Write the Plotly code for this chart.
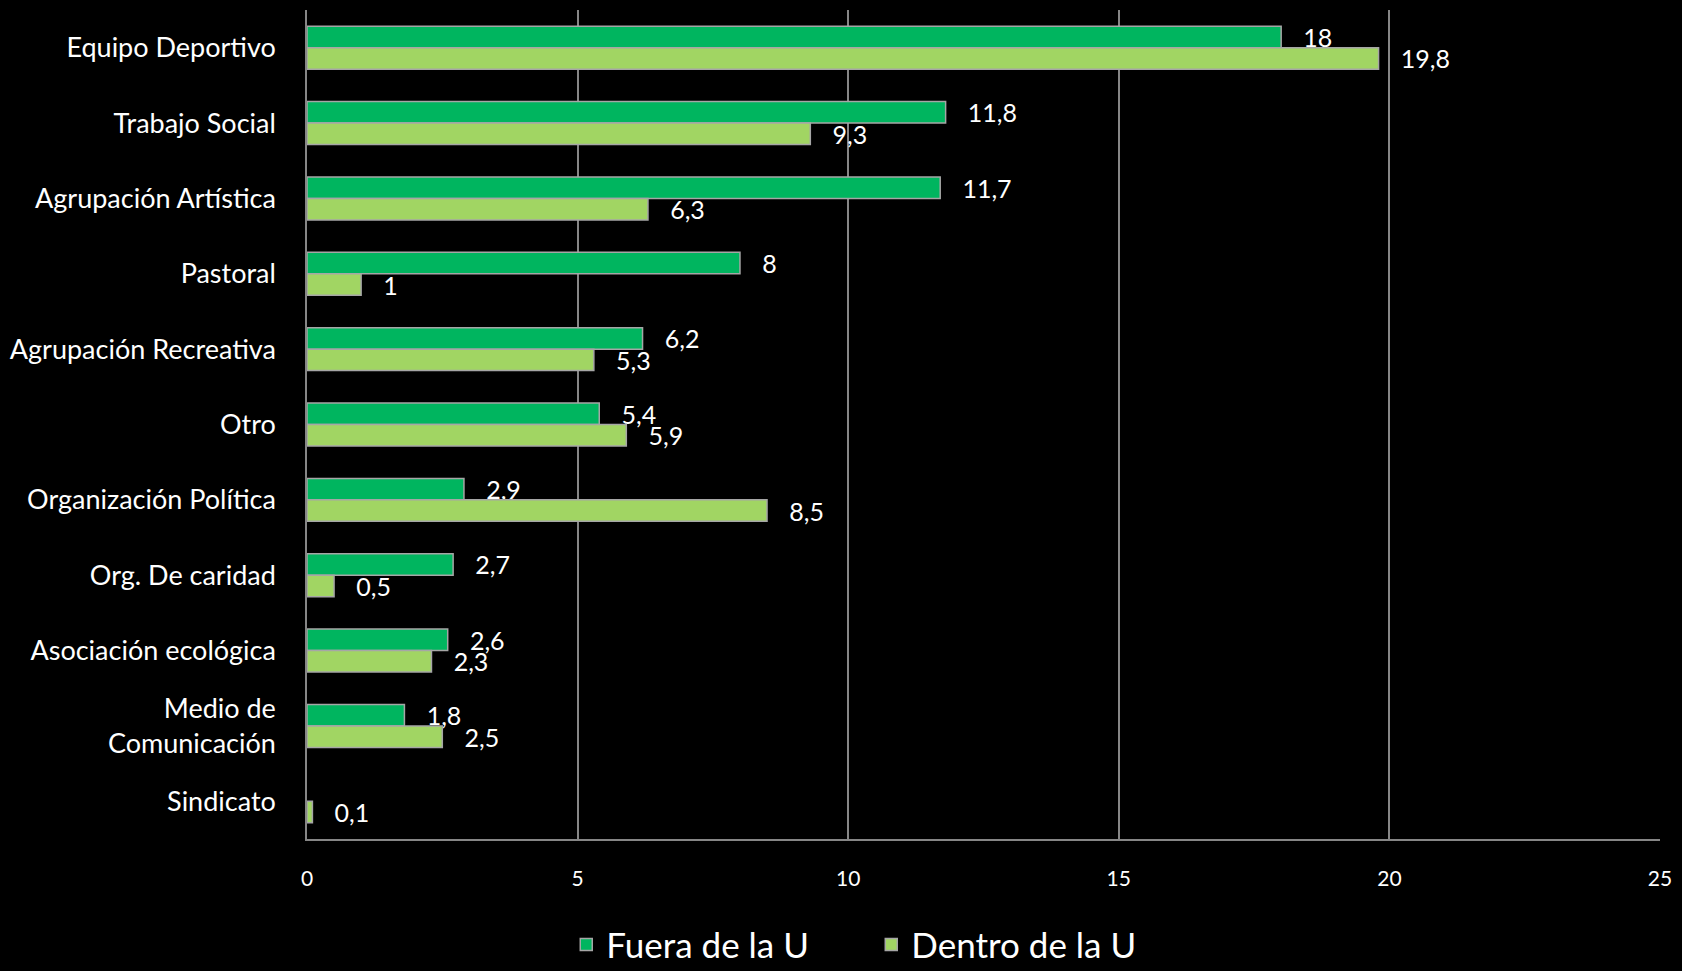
import plotly.graph_objects as go

categories = ["Equipo Deportivo", "Trabajo Social", "Agrupación Artística", "Pastoral",
              "Agrupación Recreativa", "Otro", "Organización Política", "Org. De caridad",
              "Asociación ecológica", "Medio de<br>Comunicación", "Sindicato"]
fuera = [18, 11.8, 11.7, 8, 6.2, 5.4, 2.9, 2.7, 2.6, 1.8, None]
dentro = [19.8, 9.3, 6.3, 1, 5.3, 5.9, 8.5, 0.5, 2.3, 2.5, 0.1]
x_ticks = [0, 5, 10, 15, 20, 25]

def fmt(vals):
    out = []
    for v in vals:
        if v is None:
            out.append("")
        else:
            out.append("   " + ("%g" % v).replace(".", ","))
    return out

FONT = "Lato, 'Open Sans', sans-serif"
fig = go.Figure()
fig.add_trace(go.Bar(
    y=categories, x=fuera, orientation="h", name="Fuera de la U",
    marker=dict(color="#00B55F", line=dict(color="#A6A6A6", width=1.5)),
    text=fmt(fuera), textposition="outside", cliponaxis=False, constraintext="none",
    textfont=dict(color="white", size=25, family=FONT),
))
fig.add_trace(go.Bar(
    y=categories, x=dentro, orientation="h", name="Dentro de la U",
    marker=dict(color="#A1D563", line=dict(color="#A6A6A6", width=1.5)),
    text=fmt(dentro), textposition="outside", cliponaxis=False, constraintext="none",
    textfont=dict(color="white", size=25, family=FONT),
))

fig.update_layout(
    width=1682, height=971,
    paper_bgcolor="black", plot_bgcolor="black",
    barmode="group", bargap=0.43, bargroupgap=0,
    margin=dict(l=304, r=18, t=10, b=132),
    font=dict(family=FONT, color="white"),
    xaxis=dict(range=[0, 25], tickvals=x_ticks, showgrid=True, gridcolor="#868686",
               gridwidth=1.5, zeroline=False, showline=True, linecolor="#868686", linewidth=1.5,
               tickfont=dict(size=21, color="white"), ticks="", ticklabelstandoff=20),
    yaxis=dict(autorange="reversed", showgrid=False, showline=True, linecolor="#868686",
               linewidth=1.5, tickfont=dict(size=27, color="white"), ticks="",
               ticklabelstandoff=24),
    legend=dict(orientation="h", xref="container", yref="container", x=0.518, y=0.027,
                xanchor="center", yanchor="middle", font=dict(size=35, color="white"),
                itemwidth=30, entrywidth=260, tracegroupgap=0),
)
fig.write_html("out.html", config={"displayModeBar": False},
               post_script="document.body.style.margin='0';document.body.style.background='black';")
